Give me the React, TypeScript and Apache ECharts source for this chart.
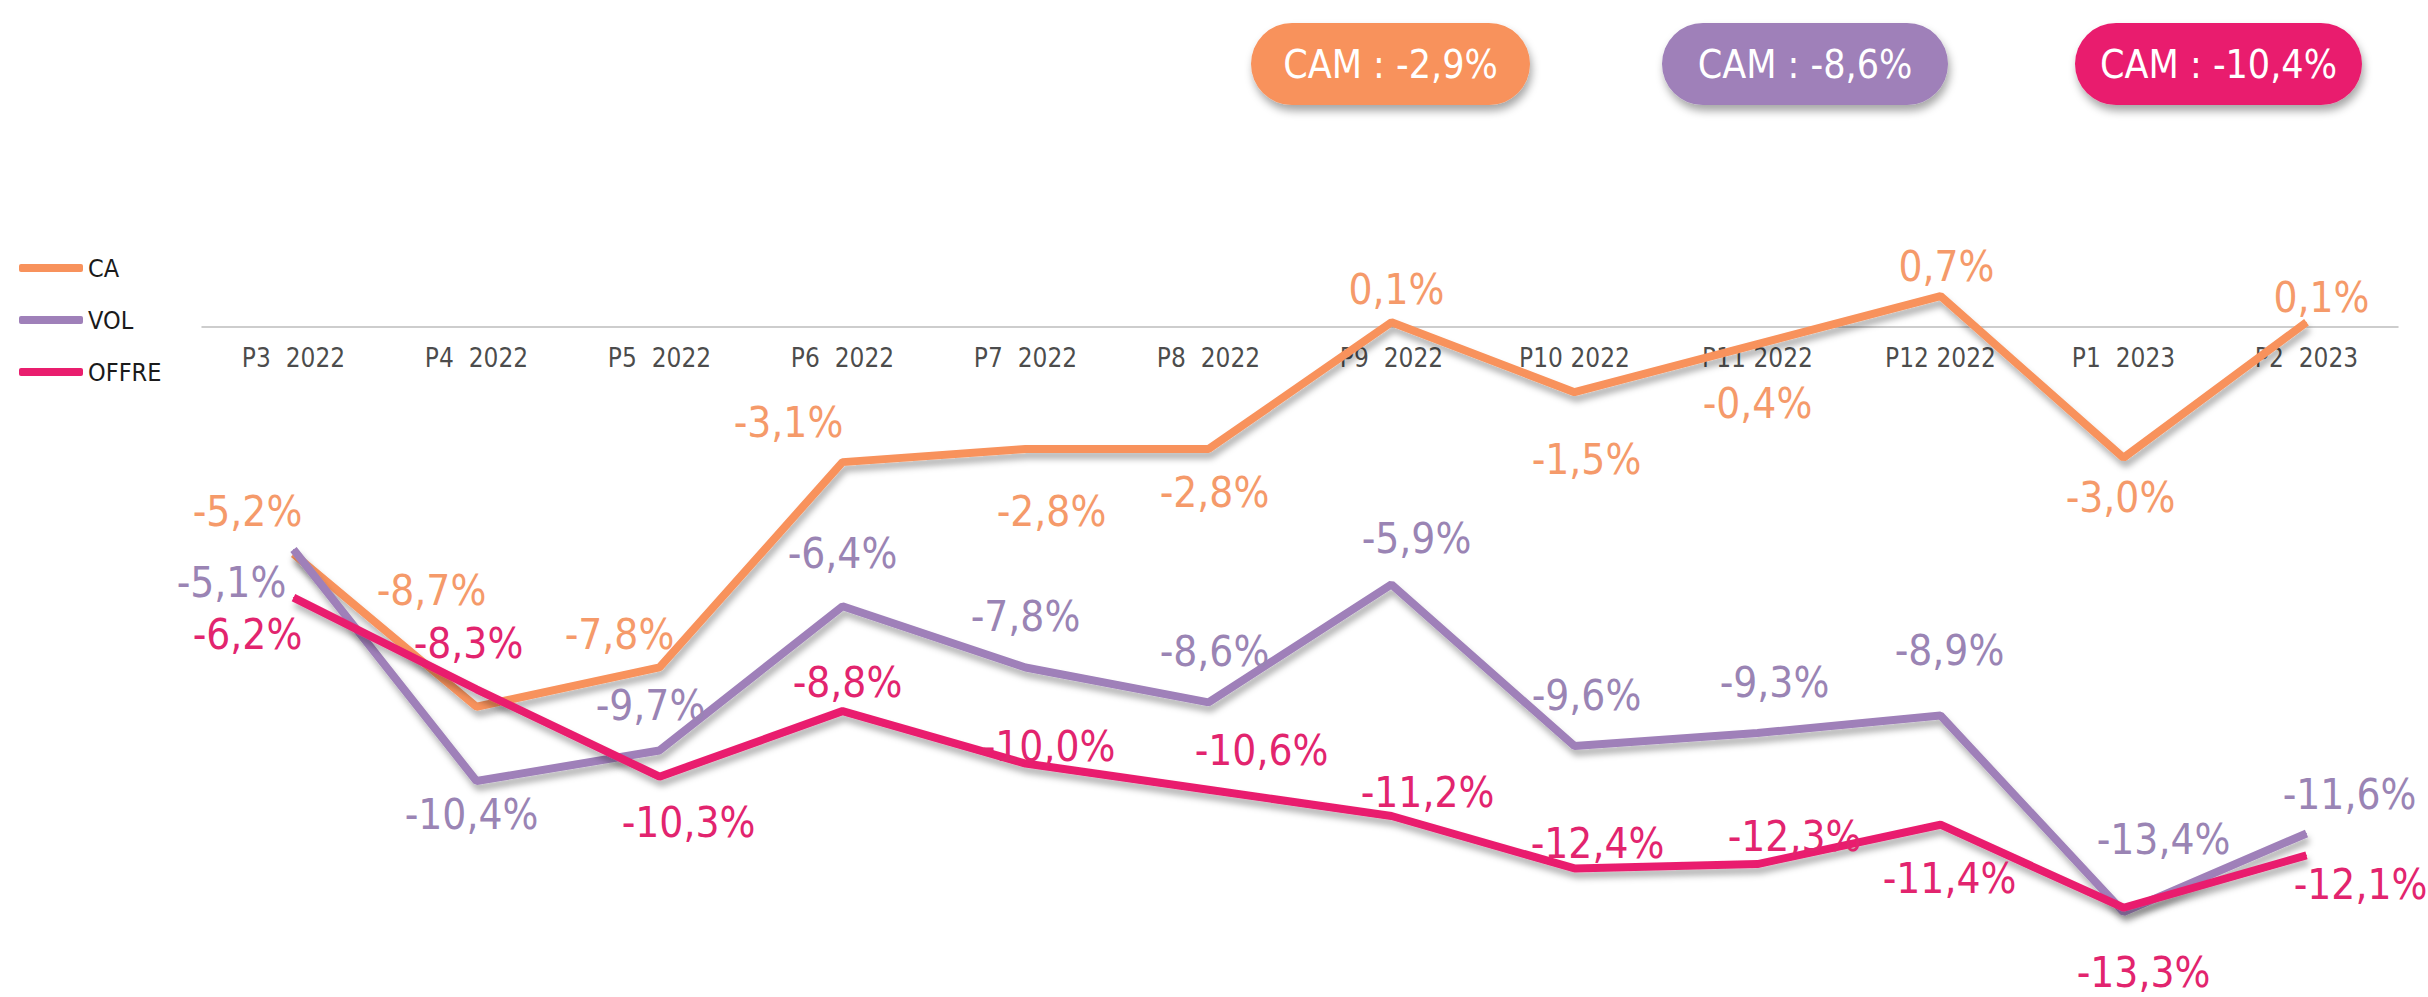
import React, { useEffect, useRef } from "react";
import * as echarts from "echarts";

const categories = [
  "P3  2022", "P4  2022", "P5  2022", "P6  2022", "P7  2022", "P8  2022",
  "P9  2022", "P10 2022", "P11 2022", "P12 2022", "P1  2023", "P2  2023",
];
const seriesNames = ["CA", "VOL", "OFFRE"];
const caValues = [-5.2, -8.7, -7.8, -3.1, -2.8, -2.8, 0.1, -1.5, -0.4, 0.7, -3.0, 0.1];
const volValues = [-5.1, -10.4, -9.7, -6.4, -7.8, -8.6, -5.9, -9.6, -9.3, -8.9, -13.4, -11.6];
const offreValues = [-6.2, -8.3, -10.3, -8.8, -10.0, -10.6, -11.2, -12.4, -12.3, -11.4, -13.3, -12.1];
const camTexts = ["CAM : -2,9%", "CAM : -8,6%", "CAM : -10,4%"];

// label placement offsets (layout only)
const caLabelOffsets = [
  [-46, -42], [-45, -116], [-40, -33], [-54, -40], [26, 62], [6, 43],
  [5, -33], [12, 67], [0, 59], [6, -30], [-3, 40], [15, -25],
];
const volLabelOffsets = [
  [-62, 33], [-5, 33], [-9, -45], [0, -53], [0, -51], [6, -51],
  [25, -46], [12, -51], [17, -50], [9, -65], [40, -73], [43, -39],
];
const offreLabelOffsets = [
  [-46, 37], [-8, -46], [29, 46], [5, -29], [23, -17], [53, -39],
  [36, -23], [23, -25], [37, -28], [9, 54], [20, 65], [54, 29],
];

const FONT = '"Liberation Sans Narrow", "Arial Narrow", "DejaVu Sans Condensed", Roboto, sans-serif';
const lineColors = ["#F8925C", "#9F80B9", "#E91E6E"];
const labelColors = ["#F59A6A", "#9A84B4", "#E2246E"];
const badgeBoxes = [
  { x: 1251, y: 23, w: 279 },
  { x: 1662, y: 23, w: 286 },
  { x: 2075, y: 23, w: 287 },
];

const fmt = (v: number) => v.toFixed(1).replace(".", ",") + "%";

export default function App() {
  const ref = useRef<HTMLDivElement>(null);
  useEffect(() => {
    if (!ref.current) return;
    const chart = echarts.init(ref.current, undefined, { renderer: "svg" });
    const allValues = [caValues, volValues, offreValues];
    const allOffsets = [caLabelOffsets, volLabelOffsets, offreLabelOffsets];
    const series: any[] = seriesNames.map((name, si) => ({
      name,
      type: "line",
      symbol: "circle",
      symbolSize: 1,
      itemStyle: { color: lineColors[si] },
      lineStyle: {
        width: 8,
        color: lineColors[si],
        shadowColor: "rgba(0,0,0,0.3)",
        shadowBlur: 6,
        shadowOffsetX: 2,
        shadowOffsetY: 6,
      },
      label: {
        show: true,
        position: "inside",
        formatter: (p: any) => fmt(p.value),
        fontSize: 42,
        fontFamily: FONT,
        color: labelColors[si],
      },
      data: allValues[si].map((v, i) => ({
        value: v,
        label: { offset: allOffsets[si][i] },
      })),
      z: 2 + si,
    }));
    // category labels sitting under the zero line
    series.push({
      name: "axisLabels",
      type: "scatter",
      symbolSize: 0,
      silent: true,
      label: {
        show: true,
        position: "bottom",
        distance: 18,
        formatter: (p: any) => p.name,
        fontSize: 26,
        fontFamily: FONT,
        color: "#1a1a1a",
      },
      data: categories.map((c) => ({ name: c, value: [c, 0] })),
      z: 1,
    });
    chart.setOption({
      animation: false,
      backgroundColor: "#ffffff",
      grid: { left: 202, right: 30, top: 283, bottom: 15, outerBoundsMode: "none", containLabel: false },
      legend: {
        orient: "vertical",
        left: 14,
        top: 250,
        itemWidth: 64,
        itemHeight: 8,
        itemGap: 26,
        icon: "roundRect",
        textStyle: { fontSize: 25, lineHeight: 26, fontFamily: FONT, color: "#1a1a1a" },
        data: seriesNames,
      },
      xAxis: {
        type: "category",
        data: categories,
        boundaryGap: true,
        axisLine: { show: true, onZero: true, lineStyle: { color: "#bdbdbd", width: 1.5 } },
        axisTick: { show: false },
        axisLabel: { show: false },
        splitLine: { show: false },
      },
      yAxis: {
        type: "value",
        min: -15,
        max: 1,
        show: false,
        splitLine: { show: false },
      },
      graphic: badgeBoxes.map((b, i) => ({
        type: "group",
        x: b.x,
        y: b.y,
        children: [
          {
            type: "rect",
            shape: { x: 0, y: 0, width: b.w, height: 82, r: 41 },
            style: {
              fill: lineColors[i],
              shadowColor: "rgba(0,0,0,0.35)",
              shadowBlur: 8,
              shadowOffsetX: 2,
              shadowOffsetY: 6,
            },
          },
          {
            type: "text",
            x: b.w / 2,
            y: 41,
            style: {
              text: camTexts[i],
              fill: "#ffffff",
              fontSize: 39,
              fontFamily: FONT,
              align: "center",
              verticalAlign: "middle",
            },
          },
        ],
      })),
      series,
    });
    return () => chart.dispose();
  }, []);
  return (
    <div
      ref={ref}
      style={{ position: "absolute", left: 0, top: 0, width: 2428, height: 997 }}
    />
  );
}
